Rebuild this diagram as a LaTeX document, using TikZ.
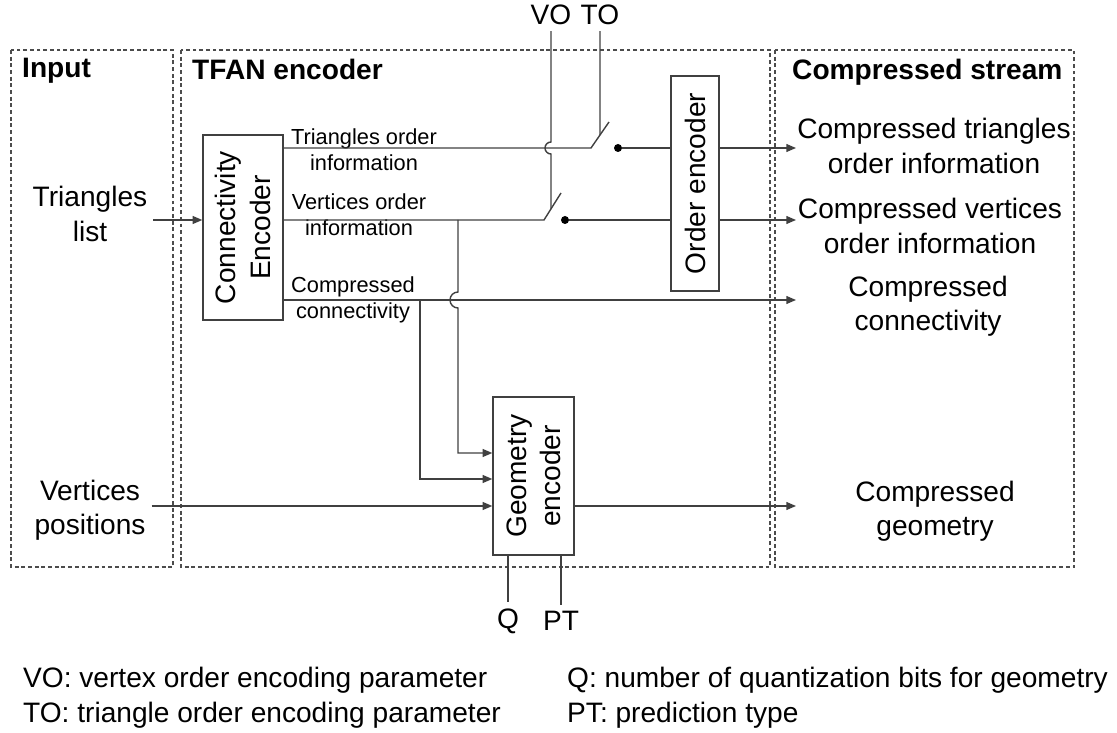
\documentclass[tikz,border=0pt]{standalone}
\usepackage{fontspec}
\setmainfont{Liberation Sans}
\usetikzlibrary{arrows.meta,positioning,calc}

\begin{document}
\begin{tikzpicture}[x=0.02cm,y=-0.02cm,
  font=\fontsize{16}{19.5}\selectfont,
  wire/.style={draw=black!75,line width=0.8pt},
  arr/.style={-{Triangle[length=5.5pt,width=4.5pt]}},
  region/.style={draw=black!70,line width=0.7pt,dash pattern=on 2.2pt off 1.6pt},
  blk/.style={draw=black!75,line width=0.8pt,inner sep=0pt},
  title/.style={font=\fontsize{16}{19}\selectfont\bfseries,anchor=west},
  lbl/.style={font=\fontsize{12.4}{15}\selectfont,align=center},
  txt/.style={align=center},
  dot/.style={circle,fill=black,inner sep=0pt,minimum size=0.16cm}]
\useasboundingbox (0,0) rectangle (1117,733);

\draw[region] (11,50) rectangle (173,567);
\draw[region] (181,50) rectangle (770,567);
\draw[region] (775,50) rectangle (1074,567);
\node[title] (tin) at (16,71) {Input};
\node[title] (ttfan) at (186,69) {TFAN encoder};
\node[title] (tout) at (786,72) {Compressed stream};

\node[blk,minimum width=1.6cm,minimum height=3.7cm] (conn) at (243,227.5) {};
\node[rotate=90,txt] (conntxt) at (conn) {Connectivity\\Encoder};
\node[blk,minimum width=0.96cm,minimum height=4.3cm] (order) at (695,183.5) {};
\node[rotate=90] (ordertxt) at (order) {Order encoder};
\node[blk,minimum width=1.62cm,minimum height=3.16cm] (geo) at (533.5,476) {};
\node[rotate=90,txt] (geotxt) at (geo) {Geometry\\encoder};

\node[txt] (trilist) at (90,214) {Triangles\\list};
\node[txt] (vpos) at (90,510) {Vertices\\positions};
\node[lbl] (ltri) at (364,150) {Triangles order\\information};
\node[lbl] (lvert) at (359,215) {Vertices order\\information};
\node[lbl] (lcc) at (353,300) {Compressed\\connectivity};
\node[txt] (otri) at (934,146) {Compressed triangles\\order information};
\node[txt] (overt) at (930,226) {Compressed vertices\\order information};
\node[txt] (occ) at (928,306) {Compressed\\connectivity};
\node[txt] (ogeo) at (935,511) {Compressed\\geometry};

\node (vo) at (551,15) {VO};
\node (to) at (600,15) {TO};
\node (q) at (508,621) {Q};
\node (pt) at (561,621) {PT};

\node[anchor=west] (kvo) at (17,680) {VO: vertex order encoding parameter};
\node[anchor=west] (kto) at (17,715) {TO: triangle order encoding parameter};
\node[anchor=west] (kq) at (561,680) {Q: number of quantization bits for geometry};
\node[anchor=west] (kpt) at (561,715) {PT: prediction type};

\coordinate (rT) at (0,148);
\coordinate (rV) at (0,220);
\coordinate (rC) at (0,300);
\coordinate (rG) at (0,506);
\coordinate (g1) at (0,453);
\coordinate (g2) at (0,479);
\coordinate (outx) at (796,0);
\coordinate (tA) at (591,148);
\coordinate (tB) at (609,122);
\coordinate (vA) at (544,220);
\coordinate (vB) at (561,193);
\coordinate (vbr) at (458,220);
\coordinate (cbr) at (420,300);
\node[dot] (tdot) at (618,148) {};
\node[dot] (vdot) at (565,220) {};

\draw[wire,arr] (trilist.east |- rV) -- (conn.west |- rV);
\draw[wire] (conn.east |- rT) -- (tA) -- (tB);
\draw[wire] (to.south) -- ($(tA)!0.5!(tB)$);
\draw[wire] (conn.east |- rV) -- (vA) -- (vB);
\draw[wire] (vo.south) -- (551,142) arc[start angle=270,end angle=90,radius=6] -- ($(vA)!0.41!(vB)$);
\draw[wire] (tdot) -- (order.west |- tdot);
\draw[wire] (vdot) -- (order.west |- vdot);
\draw[wire,arr] (order.east |- tdot) -- (outx |- tdot);
\draw[wire,arr] (order.east |- vdot) -- (outx |- vdot);
\draw[wire,arr] (conn.east |- rC) -- (outx |- rC);
\draw[wire,arr] (vbr) -- (458,292) arc[start angle=270,end angle=90,radius=8] -- (458,453) -- (geo.west |- g1);
\draw[wire,arr] (cbr) |- (geo.west |- g2);
\draw[wire,arr] (vpos.east |- rG) -- (geo.west |- rG);
\draw[wire,arr] (geo.east |- rG) -- (outx |- rG);
\draw[wire] (geo.south -| q) -- (q.north);
\draw[wire] (geo.south -| pt) -- (pt.north);
\end{tikzpicture}
\end{document}
